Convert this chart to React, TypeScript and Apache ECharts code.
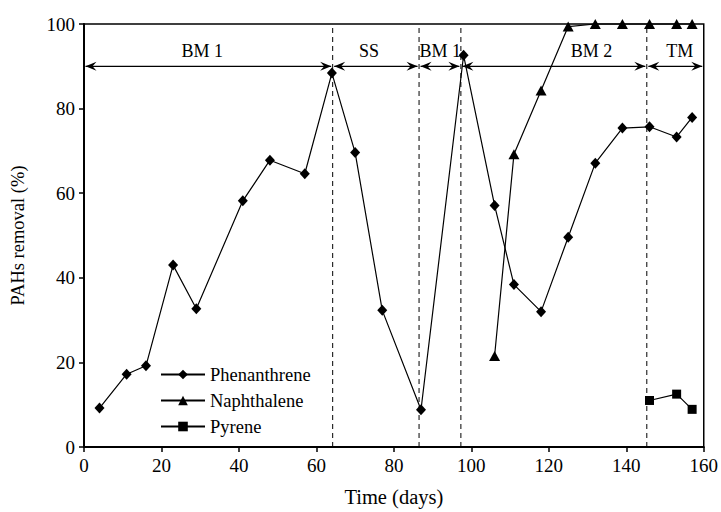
import React, { useEffect, useRef } from "react";
import * as echarts from "echarts";

const phenDays = [4, 11, 16, 23, 29, 41, 48, 57, 64, 70, 77, 87, 98, 106, 111, 118, 125, 132, 139, 146, 153, 157];
const phenanthrene = [9.2, 17.2, 19.2, 43.0, 32.7, 58.2, 67.8, 64.6, 88.4, 69.6, 32.3, 8.8, 92.6, 57.1, 38.4, 32.0, 49.6, 67.1, 75.4, 75.7, 73.3, 77.9];
const naphDays = [106, 111, 118, 125, 132, 139, 146, 153, 157];
const naphthalene = [21.5, 69.2, 84.3, 99.4, 100, 100, 100, 100, 100];
const pyreDays = [146, 153, 157];
const pyrene = [11.0, 12.5, 8.9];

const phaseStarts = [0, 64.2, 86.5, 97.3, 145.3];
const phaseEnds = [64.2, 86.5, 97.3, 145.3, 160];
const phaseNames = ["BM 1", "SS", "BM 1", "BM 2", "TM"];
const phaseLabelX = [30.5, 73.6, 92, 131, 153.8];
const phaseArrowY = 90;
const phaseLabelY = 93.5;
const dividers = [64.2, 86.5, 97.3, 145.3];

const FONT = "Liberation Serif";

function zip(xs: number[], ys: number[]) {
  return xs.map((x, i) => [x, ys[i]]);
}

export default function App() {
  const ref = useRef<HTMLDivElement>(null);
  useEffect(() => {
    const chart = echarts.init(ref.current!, null, { renderer: "svg" });
    const lineBase = {
      type: "line" as const,
      color: "#000",
      lineStyle: { color: "#000", width: 1.2 },
      itemStyle: { color: "#000" },
      z: 5,
    };
    chart.setOption({
      animation: false,
      backgroundColor: "#fff",
      grid: { left: 82, right: 15, top: 24, bottom: 61, show: true, borderColor: "#000", borderWidth: 1.5 },
      legend: {
        data: ["Phenanthrene", "Naphthalene", "Pyrene"],
        orient: "vertical",
        left: 155,
        top: 360,
        itemWidth: 44,
        itemHeight: 12,
        itemGap: 7,
        textStyle: { fontFamily: FONT, fontSize: 18.5, color: "#000" },
      },
      xAxis: {
        type: "value",
        min: 0,
        max: 160,
        interval: 20,
        name: "Time (days)",
        nameLocation: "middle",
        nameGap: 39,
        nameTextStyle: { fontFamily: FONT, fontSize: 20.5, color: "#000" },
        axisLine: { show: true, lineStyle: { color: "#000", width: 2 } },
        axisTick: { show: true, inside: false, length: 5, lineStyle: { color: "#000", width: 1.5 } },
        axisLabel: { fontFamily: FONT, fontSize: 19, color: "#000", margin: 9 },
        splitLine: { show: false },
      },
      yAxis: {
        type: "value",
        min: 0,
        max: 100,
        interval: 20,
        name: "PAHs removal (%)",
        nameLocation: "middle",
        nameGap: 57,
        nameTextStyle: { fontFamily: FONT, fontSize: 18.5, color: "#000" },
        axisLine: { show: true, lineStyle: { color: "#000", width: 2 } },
        axisTick: { show: true, inside: false, length: 5, lineStyle: { color: "#000", width: 1.5 } },
        axisLabel: { fontFamily: FONT, fontSize: 19, color: "#000", margin: 9 },
        splitLine: { show: false },
      },
      series: [
        {
          type: "custom",
          name: "dividers",
          silent: true,
          z: 2,
          data: dividers.map((d) => [d]),
          renderItem: (params: any, api: any) => {
            const x = api.value(0);
            const p0 = api.coord([x, 0]);
            const p1 = api.coord([x, 100]);
            return {
              type: "line",
              shape: { x1: p0[0], y1: p0[1], x2: p1[0], y2: p1[1] },
              style: { stroke: "#000", lineWidth: 1, lineDash: [5, 4] },
            };
          },
        },
        {
          type: "custom",
          name: "phases",
          silent: true,
          z: 3,
          data: phaseStarts.map((s, i) => [s, phaseEnds[i], phaseLabelX[i]]),
          renderItem: (params: any, api: any) => {
            const s = api.value(0);
            const e = api.value(1);
            const lx = api.value(2);
            const name = phaseNames[params.dataIndex];
            const a = api.coord([s, phaseArrowY]);
            const b = api.coord([e, phaseArrowY]);
            const l = api.coord([lx, phaseLabelY]);
            const ax = a[0] + 1.5;
            const bx = b[0] - 1.5;
            const y = a[1];
            return {
              type: "group",
              children: [
                {
                  type: "line",
                  shape: { x1: ax, y1: y, x2: bx, y2: y },
                  style: { stroke: "#000", lineWidth: 1.2 },
                },
                {
                  type: "polygon",
                  shape: { points: [[ax, y], [ax + 11, y - 4.5], [ax + 7, y], [ax + 11, y + 4.5]] },
                  style: { fill: "#000" },
                },
                {
                  type: "polygon",
                  shape: { points: [[bx, y], [bx - 11, y - 4.5], [bx - 7, y], [bx - 11, y + 4.5]] },
                  style: { fill: "#000" },
                },
                {
                  type: "text",
                  x: l[0],
                  y: l[1],
                  style: {
                    text: name,
                    fill: "#000",
                    font: `18px "${FONT}"`,
                    align: "center",
                    verticalAlign: "middle",
                  },
                },
              ],
            };
          },
        },
        {
          ...lineBase,
          name: "Phenanthrene",
          data: zip(phenDays, phenanthrene),
          symbol: "diamond",
          symbolSize: [10, 11],
        },
        {
          ...lineBase,
          name: "Naphthalene",
          data: zip(naphDays, naphthalene),
          symbol: "triangle",
          symbolSize: [11, 10],
          clip: false,
        },
        {
          ...lineBase,
          name: "Pyrene",
          data: zip(pyreDays, pyrene),
          symbol: "rect",
          symbolSize: 9,
        },
      ],
    });
    return () => chart.dispose();
  }, []);
  return <div ref={ref} style={{ width: 721, height: 512, position: "absolute", left: 0, top: 0 }} />;
}
